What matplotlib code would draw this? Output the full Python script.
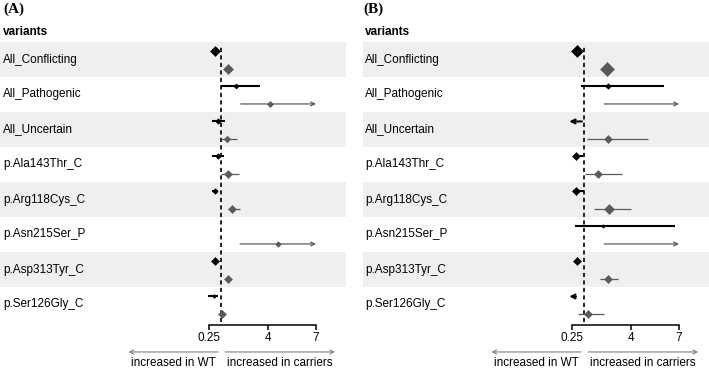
import numpy as np
import matplotlib
matplotlib.use("Agg")
import matplotlib.pyplot as plt

plt.rcParams['font.family'] = ['Liberation Sans', 'DejaVu Sans']

nan = np.nan

variants = ['All_Conflicting', 'All_Pathogenic', 'All_Uncertain', 'p.Ala143Thr_C',
            'p.Arg118Cys_C', 'p.Asn215Ser_P', 'p.Asp313Tyr_C', 'p.Ser126Gly_C']
ticks = [0.25, 4, 7]

# panel A, black (upper) series
a_black_est = [0.63, 1.98, 0.80, 0.84, 0.63, nan, 0.63, 0.55]
a_black_lo = [0.55, 1.00, 0.46, 0.46, 0.46, nan, 0.55, 0.17]
a_black_hi = [0.72, 3.47, 1.26, 1.20, 0.84, nan, 0.72, 0.80]
a_black_w = [8.7, 4.5, 5, 5, 5, nan, 7, 3.5]
# panel A, grey (lower) series
a_grey_est = [1.43, 4.10, 1.37, 1.47, 1.72, 4.62, 1.46, 1.08]
a_grey_lo = [1.30, 2.25, 1.03, 1.03, 1.43, 2.21, 1.33, 0.95]
a_grey_hi = [1.58, 12.0, 2.04, 2.14, 2.21, 12.0, 1.60, 1.22]
a_grey_w = [9.7, 5.5, 6, 6.5, 7, 5, 7.5, 7.5]

# panel B, black series
b_black_est = [0.56, 2.49, 0.05, 0.50, 0.50, 2.22, 0.54, 0.05]
b_black_lo = [0.50, 0.80, 0.02, 0.35, 0.29, 0.44, 0.48, 0.02]
b_black_hi = [0.62, 6.05, 0.88, 0.92, 1.02, 6.72, 0.60, 0.50]
b_black_w = [10.5, 5, 3, 6.5, 6.5, 3, 7.5, 2]
# panel B, grey series
b_grey_est = [2.43, 8.0, 2.55, 1.92, 2.60, 7.5, 2.53, 1.27]
b_grey_lo = [2.30, 2.28, 1.17, 1.09, 1.65, 2.28, 2.00, 0.60]
b_grey_hi = [2.60, 15.0, 5.07, 3.43, 4.00, 15.0, 3.18, 2.24]
b_grey_w = [12, 6, 6.5, 6.5, 8.5, 6, 8, 7]

W, H = 709, 368
fig = plt.figure(figsize=(W / 100, H / 100), dpi=100)

CLIP_LO, CLIP_HI = 0.08, 7
BLACK, GREY = '#000000', '#5a5a5a'


def px_axes(left, top, right, bottom):
    return fig.add_axes([left / W, 1 - bottom / H, (right - left) / W, (bottom - top) / H])


def draw_series(ax, est, lo, hi, w, dy, color, lw):
    for i in range(len(est)):
        if np.isnan(est[i]):
            continue
        y = i + dy
        ap = dict(color=color, lw=lw, shrinkA=0, shrinkB=0, mutation_scale=7)
        if hi[i] > CLIP_HI:
            ax.annotate('', xy=(CLIP_HI, y), xytext=(max(lo[i], CLIP_LO), y),
                        arrowprops=dict(arrowstyle='->', **ap))
        elif lo[i] < CLIP_LO:
            ax.annotate('', xy=(CLIP_LO, y), xytext=(hi[i], y),
                        arrowprops=dict(arrowstyle='->', **ap))
        else:
            ax.plot([lo[i], hi[i]], [y, y], color=color, lw=lw, solid_capstyle='butt')
        if CLIP_LO <= est[i] <= CLIP_HI:
            ax.plot(est[i], y, marker='D', ms=w[i] / 1.75, color=color, mec=color, mew=0.4)


def forest(ax, black, grey, left_px):
    # x scale: 0.25 at px 209, 7 at px 316 of a 346 px wide axes
    scale = 107 / 6.75
    ax.set_xlim(0.25 - 209 / scale, 7 + 30 / scale)
    ax.set_ylim(len(variants) - 0.5, -0.5)
    for i in range(0, len(variants), 2):
        ax.axhspan(i - 0.5, i + 0.5, color='#efefef', lw=0, zorder=0)
    ax.axvline(1, ymin=0, ymax=0.982, color='k', lw=1.2, ls=(0, (2.5, 2)), zorder=1)

    draw_series(ax, *black, -0.23, BLACK, 1.5)
    draw_series(ax, *grey, 0.27, GREY, 0.9)

    tr = ax.get_yaxis_transform()
    for i, v in enumerate(variants):
        ax.text(left_px / 346, i, v, transform=tr, fontsize=8.5, va='center', ha='left')

    for s in ['top', 'left', 'right']:
        ax.spines[s].set_visible(False)
    ax.spines['bottom'].set_bounds(0.25, 7)
    ax.spines['bottom'].set_position(('outward', 2))
    ax.spines['bottom'].set_linewidth(1.1)
    ax.set_yticks([])
    ax.set_xticks(ticks)
    ax.set_xticklabels(['0.25', '4', '7'])
    ax.tick_params(axis='x', length=3.5, width=1.1, labelsize=8.5, pad=1.5)
    ax.patch.set_visible(False)

    # direction arrows under the axis
    xt = ax.get_xaxis_transform()
    ap = dict(arrowstyle='->', color='#808080', lw=0.8, shrinkA=0, shrinkB=0, mutation_scale=7)
    ax.annotate('', xy=(-4.83, -0.107), xytext=(0.82, -0.107), xycoords=xt,
                arrowprops=ap, annotation_clip=False)
    ax.annotate('', xy=(8.2, -0.107), xytext=(1.26, -0.107), xycoords=xt,
                arrowprops=ap, annotation_clip=False)
    ax.text((-4.83 + 0.82) / 2, -0.148, 'increased in WT', transform=xt,
            ha='center', va='center', fontsize=8.5)
    ax.text((8.2 + 1.26) / 2, -0.148, 'increased in carriers', transform=xt,
            ha='center', va='center', fontsize=8.5)


axA = px_axes(0, 42, 346, 322)
forest(axA, (a_black_est, a_black_lo, a_black_hi, a_black_w),
       (a_grey_est, a_grey_lo, a_grey_hi, a_grey_w), 3)
axB = px_axes(363, 42, 709, 322)
forest(axB, (b_black_est, b_black_lo, b_black_hi, b_black_w),
       (b_grey_est, b_grey_lo, b_grey_hi, b_grey_w), 2)

for x, lab in [(3, '(A)'), (363, '(B)')]:
    fig.text(x / W, 1 - 9 / H, lab, family='Liberation Serif', weight='bold',
             fontsize=11, va='center', ha='left')
for x in [3, 365]:
    fig.text(x / W, 1 - 32 / H, 'variants', weight='bold', fontsize=8.5,
             va='center', ha='left')

fig.savefig('out.png', dpi=100)
